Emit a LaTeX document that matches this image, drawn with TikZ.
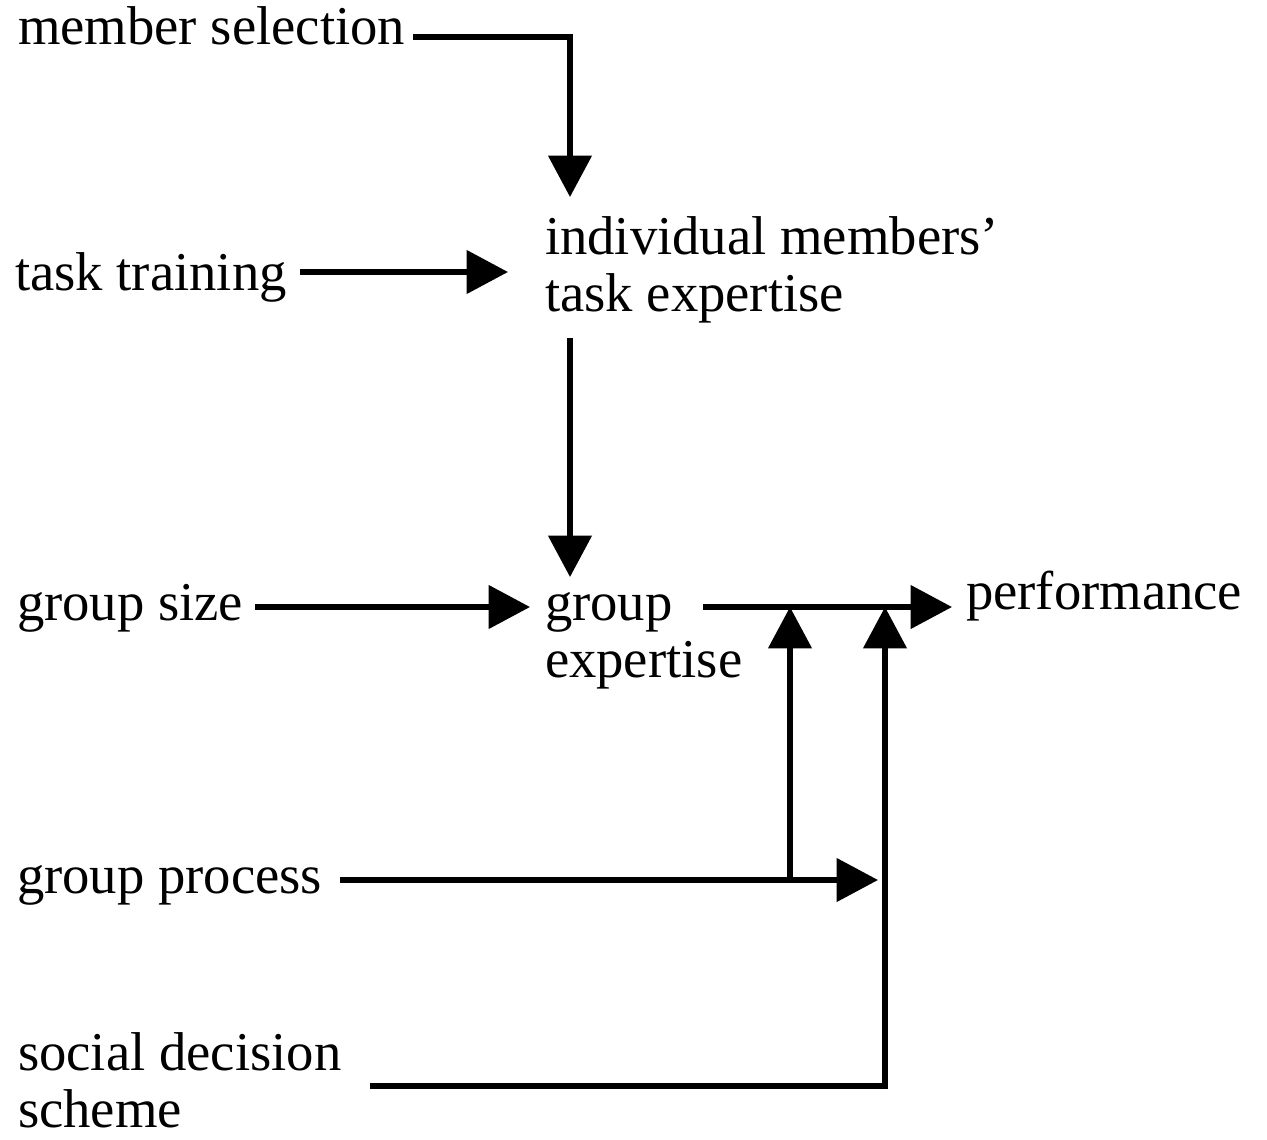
\documentclass[tikz,border=0pt]{standalone}
\usepackage{fontspec}
\setmainfont{Liberation Serif}
\usetikzlibrary{arrows.meta}
\begin{document}
\begin{tikzpicture}[x=0.75pt,y=-0.75pt,
  lbl/.style={anchor=base west, inner sep=0pt, outer sep=0pt, align=left,
              font=\fontsize{41}{42.75}\selectfont},
  conn/.style={line width=4pt, line join=miter},
  arr/.style={conn, -{Triangle[length=31pt,width=32pt]}}]
\path[use as bounding box] (0,0) rectangle (1267,1139);
% labels (multi-line nodes: base = last line's baseline)
\node[lbl] (ms)   at (18,44)    {member selection};
\node[lbl] (tt)   at (15,290)   {task training};
\node[lbl] (ite)  at (545,311)  {individual members'\\task expertise};
\node[lbl] (gs)   at (17,620)   {group size};
\node[lbl] (ge)   at (545,677)  {group\\expertise};
\node[lbl] (perf) at (966,609)  {performance};
\node[lbl] (gp)   at (17,893)   {group process};
\node[lbl] (sds)  at (18,1127)  {social decision\\scheme};
% connector points
\coordinate (msS)  at (413,37);
\coordinate (msC)  at (570,37);
\coordinate (iteT) at (570,197);
\coordinate (ttS)  at (300,272);
\coordinate (ttT)  at (508,272);
\coordinate (iteB) at (570,338);
\coordinate (geT)  at (570,577);
\coordinate (gsS)  at (255,607);
\coordinate (gsT)  at (530,607);
\coordinate (geS)  at (703,607);
\coordinate (perfT) at (952,607);
\coordinate (gpS)  at (340,880);
\coordinate (gpJ)  at (790,880);
\coordinate (gpT)  at (878,880);
\coordinate (gpU)  at (790,607);
\coordinate (sdS)  at (370,1086);
\coordinate (sdC)  at (885,1086);
\coordinate (sdU)  at (885,607);
% connectors
\draw[arr] (msS) -- (msC) -- (iteT);
\draw[arr] (ttS) -- (ttT);
\draw[arr] (iteB) -- (geT);
\draw[arr] (gsS) -- (gsT);
\draw[arr] (geS) -- (perfT);
\draw[arr] (gpS) -- (gpT);
\draw[arr] (gpJ) -- (gpU);
\draw[arr] (sdS) -- (sdC) -- (sdU);
\end{tikzpicture}
\end{document}
